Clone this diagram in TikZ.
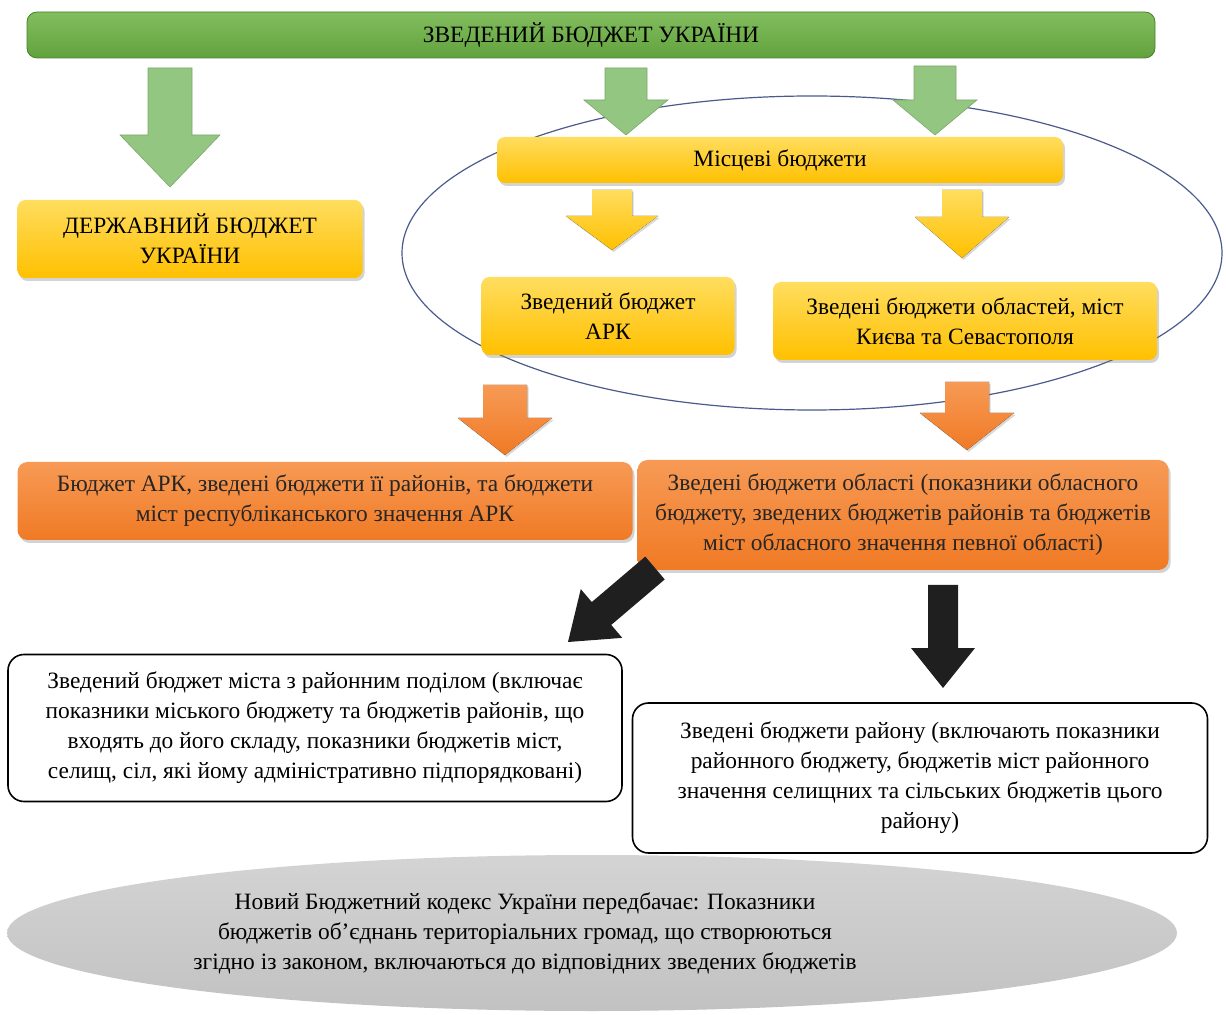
\documentclass[tikz,border=0pt]{standalone}
\usepackage{fontspec}
\setmainfont{Liberation Serif}
\usepackage{tikz}
\usetikzlibrary{calc,shapes.geometric,shadows}

\definecolor{barGreen}{HTML}{62A23E}
\definecolor{barGreenLight}{HTML}{82BD5E}
\definecolor{barGreenDark}{HTML}{4A7F2C}
\definecolor{arrowGreen}{HTML}{93C680}
\definecolor{boxYellow}{HTML}{FFC000}
\definecolor{boxYellowLight}{HTML}{FFDD5E}
\definecolor{boxOrange}{HTML}{F07A25}
\definecolor{boxOrangeLight}{HTML}{F79A55}
\definecolor{ellipseBlue}{HTML}{4A5A8C}

% block arrow: style, from, to, shaft half width, head half width, head length
\newcommand{\blockarrow}[6]{%
  \coordinate (ba-s) at (#2);
  \coordinate (ba-e) at (#3);
  \coordinate (ba-b) at ($(ba-e)!#6!(ba-s)$);
  \fill[#1] ($(ba-s)!#4!90:(ba-e)$) -- ($(ba-b)!#4!-90:(ba-s)$) -- ($(ba-b)!#5!-90:(ba-s)$)
    -- (ba-e) -- ($(ba-b)!#5!90:(ba-s)$) -- ($(ba-b)!#4!90:(ba-s)$) -- ($(ba-s)!#4!-90:(ba-e)$) -- cycle;
}

\begin{document}
\begin{tikzpicture}[
    x=0.5pt, y=-0.5pt,
    font=\fontsize{11.7}{15}\selectfont,
    titlebox/.style={rectangle, rounded corners=5pt, draw=barGreenDark, top color=barGreenLight, bottom color=barGreen, minimum height=23pt, text centered},
    yellowbox/.style={rectangle, rounded corners=4pt, top color=boxYellowLight, bottom color=boxYellow, drop shadow={shadow xshift=1pt, shadow yshift=-1.5pt, opacity=0.35}, align=center, minimum height=39pt},
    orangebox/.style={rectangle, rounded corners=5pt, top color=boxOrangeLight, bottom color=boxOrange, drop shadow={shadow xshift=1pt, shadow yshift=-1.5pt, opacity=0.35}, align=center, minimum height=39pt, text=black!85},
    whitebox/.style={rectangle, rounded corners=8pt, draw, thick, fill=white, align=center},
    greenarrow/.style={fill=arrowGreen, draw=arrowGreen!85!black, line width=0.3pt},
    yellowarrow/.style={top color=boxYellowLight, bottom color=boxYellow, drop shadow={shadow xshift=0.8pt, shadow yshift=-1pt, opacity=0.3}},
    orangearrow/.style={top color=boxOrangeLight, bottom color=boxOrange, drop shadow={shadow xshift=0.8pt, shadow yshift=-1pt, opacity=0.3}},
    blackarrow/.style={fill=black!88}
  ]
    \useasboundingbox (0,0) rectangle (1226,1015);

    % ring round the local budgets
    \node[ellipse, draw=ellipseBlue, line width=0.6pt, minimum width=410pt, minimum height=157pt] (localarea) at (812,253) {};

    % Nodes
    \node[titlebox, minimum width=564pt] (title) at (591,35) {ЗВЕДЕНИЙ БЮДЖЕТ УКРАЇНИ};
    \node[yellowbox, minimum width=283pt, minimum height=23pt] (local) at (780,160) {Місцеві бюджети};
    \node[yellowbox, minimum width=172.5pt] (state) at (190,239) {ДЕРЖАВНИЙ БЮДЖЕТ\\УКРАЇНИ};
    \node[yellowbox, minimum width=126.5pt] (arkc) at (608,316) {Зведений бюджет\\АРК};
    \node[yellowbox, minimum width=192pt] (oblc) at (965,321) {Зведені бюджети областей, міст\\Києва та Севастополя};

    \node[orangebox, minimum width=307.5pt] (ark) at (325,501) {Бюджет АРК, зведені бюджети її районів, та бюджети\\міст республіканського значення АРК};
    \node[orangebox, minimum width=265.5pt, minimum height=55pt] (obl) at (903,515) {Зведені бюджети області (показники обласного\\бюджету, зведених бюджетів районів та бюджетів\\міст обласного значення певної області)};

    \node[whitebox, minimum width=307pt, minimum height=73.5pt] (city) at (315,728) {Зведений бюджет міста з районним поділом (включає\\показники міського бюджету та бюджетів районів, що\\входять до його складу, показники бюджетів міст,\\селищ, сіл, які йому адміністративно підпорядковані)};
    \node[whitebox, minimum width=287.5pt, minimum height=75pt] (rayon) at (920,778) {Зведені бюджети району (включають показники\\районного бюджету, бюджетів міст районного\\значення селищних та сільських бюджетів цього\\району)};

    \node[ellipse, top color=gray!34, bottom color=gray!48, minimum width=585pt, minimum height=78pt] (code) at (592,933) {};
    \node[align=center] (codetext) at (525,933) {Новий Бюджетний кодекс України передбачає: Показники\\бюджетів об’єднань територіальних громад, що створюються\\згідно із законом, включаються до відповідних зведених бюджетів};

    % Arrows
    \coordinate (g1s) at (170,68);  \coordinate (g1e) at (170,187);
    \coordinate (g2s) at (626,68);  \coordinate (g2e) at (626,135);
    \coordinate (g3s) at (935,66);  \coordinate (g3e) at (935,135);
    \coordinate (y1s) at (612,190); \coordinate (y1e) at (612,250);
    \coordinate (y2s) at (962,190); \coordinate (y2e) at (962,258);
    \coordinate (o1s) at (505,385); \coordinate (o1e) at (505,455);
    \coordinate (o2s) at (967,382); \coordinate (o2e) at (967,450);
    \coordinate (k1s) at (655,568); \coordinate (k1e) at (568,642);
    \coordinate (k2s) at (943,585); \coordinate (k2e) at (943,688);

    \blockarrow{greenarrow}{g1s}{g1e}{11pt}{25pt}{26pt}
    \blockarrow{greenarrow}{g2s}{g2e}{10.5pt}{21pt}{17.5pt}
    \blockarrow{greenarrow}{g3s}{g3e}{10.5pt}{21pt}{17.5pt}
    \blockarrow{yellowarrow}{y1s}{y1e}{10pt}{23pt}{17pt}
    \blockarrow{yellowarrow}{y2s}{y2e}{10pt}{23.5pt}{20.5pt}
    \blockarrow{orangearrow}{o1s}{o1e}{11pt}{23.5pt}{18.5pt}
    \blockarrow{orangearrow}{o2s}{o2e}{11pt}{23.5pt}{18.5pt}
    \blockarrow{blackarrow}{k1s}{k1e}{7.5pt}{16pt}{22pt}
    \blockarrow{blackarrow}{k2s}{k2e}{7.5pt}{16pt}{20pt}
\end{tikzpicture}
\end{document}
